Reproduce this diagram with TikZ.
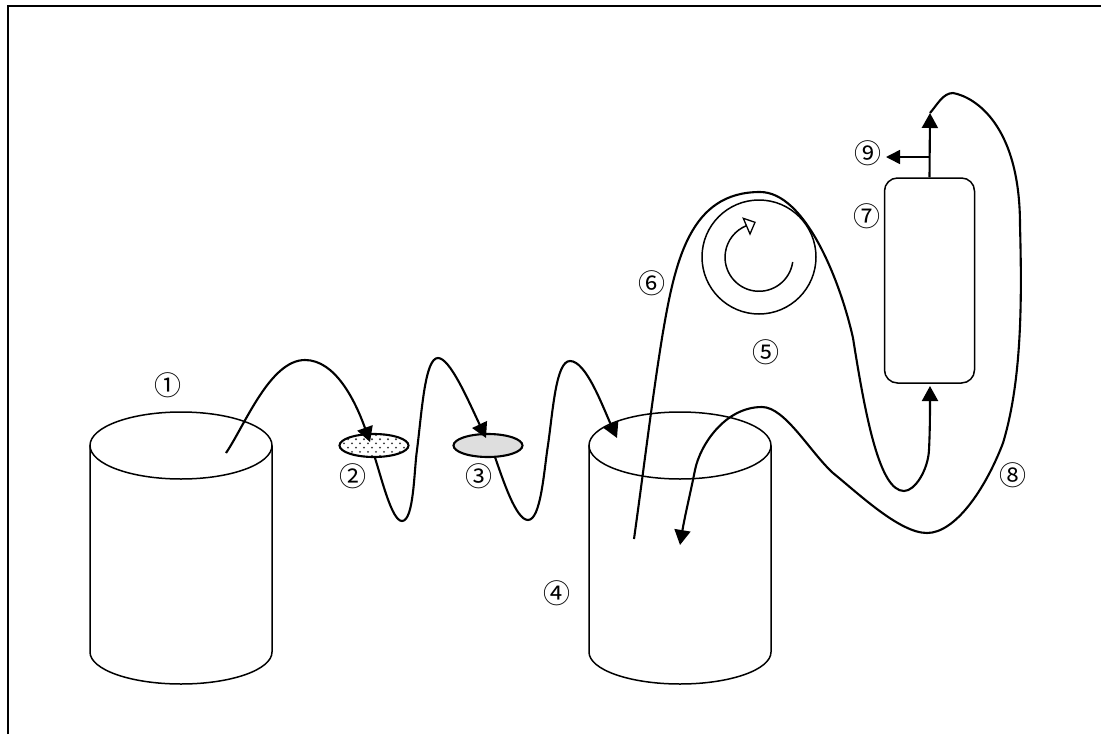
\documentclass[tikz,border=0pt]{standalone}
\usepackage{fontspec}
\usetikzlibrary{arrows.meta,shapes.geometric}
\newfontfamily\symfont{Noto Sans CJK JP}
\tikzset{
  x=1pt,y=-1pt,
  shell/.style={draw=black,line width=1.5pt},
  tube/.style={draw=black,line width=2.1pt,line join=round},
  tip/.style={-{Triangle[length=15pt,width=16pt,fill=black]}},
  disc/.style={ellipse,draw=black,line width=2.1pt,minimum width=69pt,minimum height=23pt,inner sep=0pt,outer sep=0pt},
  num/.style={inner sep=0pt,font=\symfont\fontsize{27}{27}\selectfont},
}
\begin{document}
\begin{tikzpicture}
\useasboundingbox (0,0) rectangle (1101,734);
\draw[line width=2pt] (8,734) -- (8,6) -- (1101,6);
% tanks
\foreach \cx in {181,680}{
  \draw[shell] (\cx,445.5) ellipse [x radius=91,y radius=33.5];
  \draw[shell] (\cx-91,445.5) -- (\cx-91,652) arc[start angle=180,end angle=360,x radius=91,y radius=-32] -- (\cx+91,445.5);
}
% discs
\node[disc,fill=white] (discA) at (374,445.5) {};
\begin{scope}
  \clip (374,445.5) ellipse [x radius=33,y radius=10.5];
  \foreach \r in {0,1,...,5}{
    \foreach \c in {0,1,...,10}{
      \fill[black!80] ({336+\c*8+mod(\r,2)*4},{435+\r*4.2}) circle (1.05);
    }
  }
\end{scope}
\node[disc,fill=black!13] (discB) at (488,445.5) {};
% pump
\node[circle,draw=black,line width=1.5pt,minimum size=114pt,inner sep=0pt] (pump) at (759,257) {};
\draw[line width=1.5pt] (792.7,262) arc[start angle=-8,end angle=-249,x radius=34,y radius=-34];
\draw[line width=1.3pt,fill=white,line join=miter] (743.3,218.3) -- (755,222.3) -- (750,234) -- cycle;
% filter
\node[draw=black,line width=1.5pt,rounded corners=13pt,minimum width=90pt,minimum height=205pt,inner sep=0pt] (filter) at (929.5,280.5) {};
% tubes
\coordinate (split) at (930,157);
\coordinate (topEnd) at (930,113);
\coordinate (sideEnd) at (886,157);
\draw[tube,tip] (226,453) .. controls (245,425) and (270,360) .. (305,360) .. controls (335,360) and (355,400) .. (370,442);
\draw[tube,tip] (375,458) .. controls (382,480) and (392,521) .. (402,521) .. controls (414,521) and (414,470) .. (417,450) .. controls (422,410) and (425,358) .. (438,358) .. controls (450,358) and (468,400) .. (486,438);
\draw[tube,tip] (495,457) .. controls (503,480) and (516,520) .. (528,520) .. controls (541,520) and (544,470) .. (548,445) .. controls (553,410) and (556,361) .. (570,361) .. controls (586,361) and (602,405) .. (617,438);
\draw[tube,tip] (634,539) .. controls (645,460) and (652,400) .. (662,338) .. controls (675,260) and (690,192) .. (760,192) .. controls (805,192) and (840,280) .. (853,338) .. controls (866,420) and (880,491) .. (904,491) .. controls (915,491) and (928,470) .. (929,450) .. controls (930,430) and (930,410) .. (930,386);
\draw[tube,tip] (filter.north) -- (topEnd);
\draw[line width=1.6pt,-{Triangle[length=14pt,width=14pt,fill=black]}] (split) -- (sideEnd);
\draw[tube,tip] (topEnd) .. controls (937,105) and (943,93) .. (953,93) .. controls (975,97) and (1020,125) .. (1020,225) .. controls (1022,300) and (1022,380) .. (1003,443) .. controls (985,490) and (955,533) .. (927,533) .. controls (900,533) and (860,495) .. (833,473) .. controls (810,452) and (785,407) .. (762,407) .. controls (725,407) and (700,445) .. (695,470) .. controls (690,495) and (685,515) .. (680,545);
% labels
\node[num] (n1) at (168,385) {①};
\node[num] (n2) at (353,476) {②};
\node[num] (n3) at (479,476) {③};
\node[num] (n4) at (557,593) {④};
\node[num] (n5) at (766,352) {⑤};
\node[num] (n6) at (652,283) {⑥};
\node[num] (n7) at (867,216) {⑦};
\node[num] (n8) at (1013,475) {⑧};
\node[num] (n9) at (868,153) {⑨};
\end{tikzpicture}
\end{document}
